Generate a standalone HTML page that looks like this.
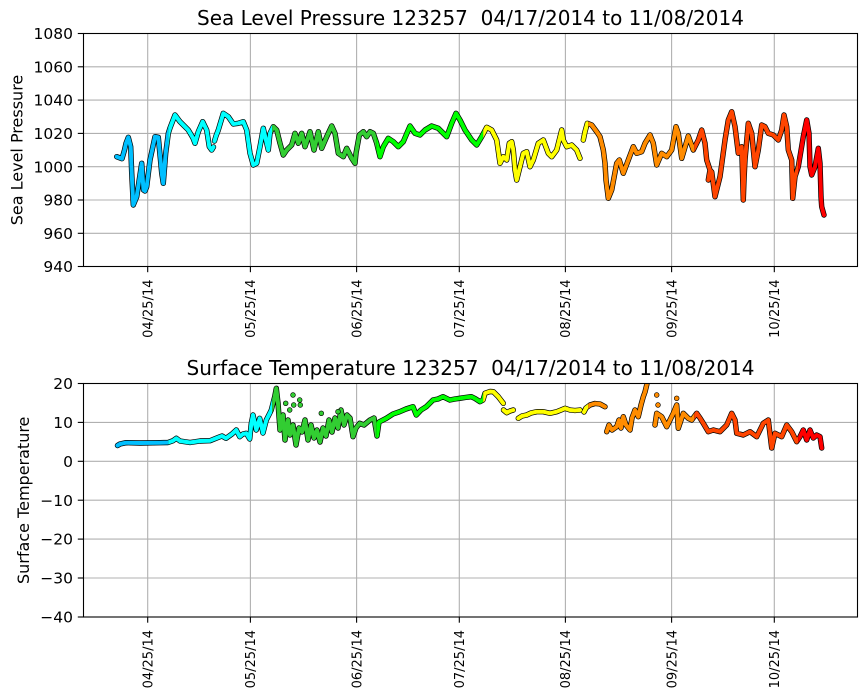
<!DOCTYPE html>
<html>
<head>
<meta charset="utf-8">
<style>
html,body{margin:0;padding:0;background:#fff;}
svg{display:block;}
text{font-family:"DejaVu Sans","Liberation Sans",sans-serif;fill:#000;}
.ttl{white-space:pre;}
</style>
</head>
<body>
<svg width="867" height="700" viewBox="0 0 867 700" xmlns="http://www.w3.org/2000/svg">
<defs>
  <clipPath id="axT"><rect x="83.5" y="33.5" width="774" height="233"/></clipPath>
  <clipPath id="axB"><rect x="83.5" y="383.5" width="774" height="233.5"/></clipPath>
  <clipPath id="cBlue"><rect x="0" y="0" width="168.2" height="700"/></clipPath>
  <clipPath id="cCyan"><rect x="168.2" y="0" width="104" height="700"/></clipPath>
  <clipPath id="cGreen"><rect x="272.2" y="0" width="104" height="700"/></clipPath>
  <clipPath id="cLime"><rect x="376.2" y="0" width="107" height="700"/></clipPath>
  <clipPath id="cYellow"><rect x="483.2" y="0" width="105" height="700"/></clipPath>
  <clipPath id="cDOrange"><rect x="588.2" y="0" width="106" height="700"/></clipPath>
  <clipPath id="cORed"><rect x="694.2" y="0" width="104" height="700"/></clipPath>
  <clipPath id="cRed"><rect x="798.2" y="0" width="100" height="700"/></clipPath>

  <path id="pT" fill="none" stroke-linejoin="round" stroke-linecap="round" d="M116.7,156.7 L122,158.7 124.5,150 126,143.3 128.3,137.3 130.7,146.7 131.7,173 133.3,205 136.7,196.7 141.7,163.3 143.5,190 145,191 146.7,186.7 150,160 155,136.7 158.3,137.3 160,155 161.7,173 163.3,183.3 165.7,153.3 168.3,133.3 170,128 175,115 180,121.7 188.3,130 193,138 195,143.3 198.3,131.7 202.7,121.7 206.7,130 209.3,146.7 211.7,150 213.5,147
  M214.5,141 L216,136 218.3,130 223.3,113.3 228.3,116.7 233.3,124 238.3,123.3 243.3,121.7 246.7,130 250,153.3 253.3,165 256.7,163.3 260,146.7 263.3,128.3 266.7,143.3 268.3,150 270,133.3 273.3,126.7 276.7,130 280,143.3 283.3,155 286.7,150 291.7,145 295,133.3 298.3,143.3 301.7,133.3 305,146.7 310,131.7 314,150 318.3,131.7 321.7,148.3 326.7,136.7 331.7,126 335,133.3 338.3,153.3 343.3,156.7 346.7,148.3 351.7,158.3 355,163.3 356,153.3 359.3,135 363.3,131.7 366.7,136.7 370,131.7 373.3,133.3 376.7,143.3 380,156.7 383.3,146.7 388.3,138.3 393.3,141.7 398.3,146.7 403.3,141.7 410,126 415,133.3 420,135 425,130 431.7,126 438.3,128.3 446.7,136.7 451.7,123.3 456,113.3 460,120 465,130 471.7,140 476.7,145 481.7,136.7 486.7,127.3 491.7,130 496.7,140 500,163.3 503.3,156.7 506.7,160 509.3,143.3 511.7,141.7 513.3,150 515,170 516.7,180 520,166.7 523.3,153.3 526.7,151.7 530,166.7 533.3,160 538.3,143.3 543.3,140 548.3,153.3 551.7,156.7 556.7,150 561.7,130 563.3,140 566.7,146.7 571.7,145 576.7,150 580,158.3
  M583.3,140 L585,131.7 587.3,123.3 591.7,125 596.7,131.7 600,136.7 603.3,150 605,163.3 606,180 608.3,198.3 611.7,190 616.7,163.3 619.3,160 623.3,173.3 628.3,160 633.3,146.7 636.7,153.3 641.7,151.7 645,143.3 650,135 653.3,143.3 656.7,165 661.7,153.3 666.7,156.7 671.7,150 676,126.7 678.3,133.3 681.7,158.3 688.3,136 693.3,150 698.3,140 701.7,130 705,143.3 706.7,160 710,170 708.3,180 711.7,171.7 715,196.7 720,176.7 725,140 728.3,120 731.7,111.7 735,126.7 738.3,153.3 741.7,146.7 743.3,200 744,180 745,160 748.3,123.3 751.7,133.3 755,166.7 758.3,150 761.7,125 765,126.7 768.3,133.3 773.3,135 778.3,140 781.7,130 784,115 786.7,126.7 788.3,150 791.7,160 792.7,198.3 795,176.7 798.3,166.7 803.3,136.7 806.7,120 809,133.3 810,166.7 811.7,175 815,166.7 818.3,148.3 820,163.3 821,196.7 821.7,206.7 824,215"/>

  <path id="pB" fill="none" stroke-linejoin="round" stroke-linecap="round" d="M117.5,445.5 L120,444 126,442.7 140,443 160,442.7 168,442.5 173,440.7 176.3,438.3 180,441 190,442.5 200,441 210,440.7 218,437.5 222,436 226,438.3 232,434 236.3,430 239.7,436.7 243,434 246.3,433.3 249.7,439 251.3,423.3 253,415 256.3,430 259.7,418.3 263,433 266.3,420 269.7,413.3 271.3,410 274.7,396.7 276.3,388.3 278,403 280,430 283,415 285,440 288,420 290,435 293,425 296,445 299,428 302,432 305,420 308,440 311,425 314,438 317,430 320,442 323,428 326,436 329,420 332,432 335,418 338,428 341,410 344,425 347,415 350,418 353,436.7 356,428 359.7,423.3 364,425 370,420 374,418 377,436 379,422 386.3,418.3 393,414 399.7,411.7 406,409 413,406.7 416.3,415 421,410 426.3,406.7 433,400 438,399 443,396.7 449.7,400 455,399 459.7,398.3 465,397.5 471.3,396.7 475,398.5 480,401.7 483,400 485,393.3 490,391.5 493.3,391.7 498.3,396.7 503.3,403.3
  M503.5,410 L506.7,412.7 510,411 513.3,410
  M518.3,418.3 L522,416 526.7,415 531,413 536.7,411.7 543.3,411.7 550,413.3 556.7,411.7 561,410 565,408.3 570,410 575,410.5 580,410
  M584,412 L586,408 590,405 595,403.5 600,404 605,406.7
  M606.7,431.7 L609,425 612,430 616.7,426.7 619,420 621,428 623.3,416.7 626,425 630,430 632,418 635,410 638.3,416.7 641,405 643.3,396.7 645,392 646.7,385 648,378
  M655,425 L656.7,413.3 661.7,416.7 666.7,426.7 670,420 673.3,413.3 676.7,405 678.3,428.3 683.3,413.3 688.3,418.3 691.7,420 696.7,413.3 700,418 703.3,423.3 708.3,431.7 713.3,430 720,431.7 726.7,425 731.7,413.3 735,420 736.7,433.3 743.3,435 750,431.7 756.7,436.7 763.3,423.3 768.3,420 771.7,448 775,433.3 781.7,436.7 786.7,425 791.7,431.7 796.7,441.7 800,436.7 803.3,430 806.7,440 810,430 813.3,438 816.7,435 820,436.7 821.7,448"/>
</defs>

<rect x="0" y="0" width="867" height="700" fill="#fff"/>

<!-- ================= TOP AXES ================= -->
<g stroke="#b0b0b0" stroke-width="1.1" fill="none">
  <line x1="147.7" y1="33.5" x2="147.7" y2="266.5"/>
  <line x1="250.4" y1="33.5" x2="250.4" y2="266.5"/>
  <line x1="356.6" y1="33.5" x2="356.6" y2="266.5"/>
  <line x1="459.3" y1="33.5" x2="459.3" y2="266.5"/>
  <line x1="565.4" y1="33.5" x2="565.4" y2="266.5"/>
  <line x1="671.6" y1="33.5" x2="671.6" y2="266.5"/>
  <line x1="774.3" y1="33.5" x2="774.3" y2="266.5"/>
  <line x1="83.5" y1="66.8" x2="857.5" y2="66.8"/>
  <line x1="83.5" y1="100.1" x2="857.5" y2="100.1"/>
  <line x1="83.5" y1="133.4" x2="857.5" y2="133.4"/>
  <line x1="83.5" y1="166.7" x2="857.5" y2="166.7"/>
  <line x1="83.5" y1="200" x2="857.5" y2="200"/>
  <line x1="83.5" y1="233.3" x2="857.5" y2="233.3"/>
</g>

<g clip-path="url(#axT)">
  <use href="#pT" stroke="#000" stroke-width="5.4"/>
  <g stroke-width="4.0">
    <use href="#pT" stroke="#00bfff" clip-path="url(#cBlue)"/>
    <use href="#pT" stroke="#00ffff" clip-path="url(#cCyan)"/>
    <use href="#pT" stroke="#32cd32" clip-path="url(#cGreen)"/>
    <use href="#pT" stroke="#00ff00" clip-path="url(#cLime)"/>
    <use href="#pT" stroke="#ffff00" clip-path="url(#cYellow)"/>
    <use href="#pT" stroke="#ff8c00" clip-path="url(#cDOrange)"/>
    <use href="#pT" stroke="#ff4500" clip-path="url(#cORed)"/>
    <use href="#pT" stroke="#ff0000" clip-path="url(#cRed)"/>
  </g>
</g>

<rect x="83.5" y="33.5" width="774" height="233" fill="none" stroke="#000" stroke-width="1.1"/>

<g stroke="#000" stroke-width="1.1">
  <line x1="77.8" y1="33.5" x2="83.5" y2="33.5"/>
  <line x1="77.8" y1="66.8" x2="83.5" y2="66.8"/>
  <line x1="77.8" y1="100.1" x2="83.5" y2="100.1"/>
  <line x1="77.8" y1="133.4" x2="83.5" y2="133.4"/>
  <line x1="77.8" y1="166.7" x2="83.5" y2="166.7"/>
  <line x1="77.8" y1="200" x2="83.5" y2="200"/>
  <line x1="77.8" y1="233.3" x2="83.5" y2="233.3"/>
  <line x1="77.8" y1="266.5" x2="83.5" y2="266.5"/>
  <line x1="147.7" y1="266.5" x2="147.7" y2="272.2"/>
  <line x1="250.4" y1="266.5" x2="250.4" y2="272.2"/>
  <line x1="356.6" y1="266.5" x2="356.6" y2="272.2"/>
  <line x1="459.3" y1="266.5" x2="459.3" y2="272.2"/>
  <line x1="565.4" y1="266.5" x2="565.4" y2="272.2"/>
  <line x1="671.6" y1="266.5" x2="671.6" y2="272.2"/>
  <line x1="774.3" y1="266.5" x2="774.3" y2="272.2"/>
</g>

<g font-size="15.5" text-anchor="end">
  <text x="73" y="39.1">1080</text>
  <text x="73" y="72.4">1060</text>
  <text x="73" y="105.7">1040</text>
  <text x="73" y="139">1020</text>
  <text x="73" y="172.3">1000</text>
  <text x="73" y="205.6">980</text>
  <text x="73" y="238.9">960</text>
  <text x="73" y="272.1">940</text>
</g>

<g font-size="13" text-anchor="end">
  <text transform="translate(152.4,279.5) rotate(-90)">04/25/14</text>
  <text transform="translate(255.1,279.5) rotate(-90)">05/25/14</text>
  <text transform="translate(361.3,279.5) rotate(-90)">06/25/14</text>
  <text transform="translate(464,279.5) rotate(-90)">07/25/14</text>
  <text transform="translate(570.1,279.5) rotate(-90)">08/25/14</text>
  <text transform="translate(676.3,279.5) rotate(-90)">09/25/14</text>
  <text transform="translate(779,279.5) rotate(-90)">10/25/14</text>
</g>

<text class="ttl" x="470.5" y="25" font-size="20" text-anchor="middle" xml:space="preserve">Sea Level Pressure 123257  04/17/2014 to 11/08/2014</text>
<text transform="translate(22.5,150) rotate(-90)" font-size="16" text-anchor="middle">Sea Level Pressure</text>

<!-- ================= BOTTOM AXES ================= -->
<g stroke="#b0b0b0" stroke-width="1.1" fill="none">
  <line x1="147.7" y1="383.5" x2="147.7" y2="617"/>
  <line x1="250.4" y1="383.5" x2="250.4" y2="617"/>
  <line x1="356.6" y1="383.5" x2="356.6" y2="617"/>
  <line x1="459.3" y1="383.5" x2="459.3" y2="617"/>
  <line x1="565.4" y1="383.5" x2="565.4" y2="617"/>
  <line x1="671.6" y1="383.5" x2="671.6" y2="617"/>
  <line x1="774.3" y1="383.5" x2="774.3" y2="617"/>
  <line x1="83.5" y1="422.4" x2="857.5" y2="422.4"/>
  <line x1="83.5" y1="461.3" x2="857.5" y2="461.3"/>
  <line x1="83.5" y1="500.2" x2="857.5" y2="500.2"/>
  <line x1="83.5" y1="539.1" x2="857.5" y2="539.1"/>
  <line x1="83.5" y1="578" x2="857.5" y2="578"/>
</g>

<g clip-path="url(#axB)">
  <use href="#pB" stroke="#000" stroke-width="5.4"/>
  <g stroke-width="4.0">
    <use href="#pB" stroke="#00bfff" clip-path="url(#cBlue)"/>
    <use href="#pB" stroke="#00ffff" clip-path="url(#cCyan)"/>
    <use href="#pB" stroke="#32cd32" clip-path="url(#cGreen)"/>
    <use href="#pB" stroke="#00ff00" clip-path="url(#cLime)"/>
    <use href="#pB" stroke="#ffff00" clip-path="url(#cYellow)"/>
    <use href="#pB" stroke="#ff8c00" clip-path="url(#cDOrange)"/>
    <use href="#pB" stroke="#ff4500" clip-path="url(#cORed)"/>
    <use href="#pB" stroke="#ff0000" clip-path="url(#cRed)"/>
  </g>
  <g stroke="#000" stroke-width="0.6" fill="#32cd32">
    <circle cx="285.7" cy="403.3" r="2.4"/>
    <circle cx="293" cy="395" r="2.4"/>
    <circle cx="299.7" cy="400" r="2.4"/>
    <circle cx="300.3" cy="405" r="2.4"/>
    <circle cx="293.7" cy="405" r="2.4"/>
    <circle cx="289.7" cy="410" r="2.4"/>
    <circle cx="338" cy="411.7" r="2.4"/>
    <circle cx="321.3" cy="413.3" r="2.4"/>
  </g>
  <g stroke="#000" stroke-width="0.6" fill="#ff8c00">
    <circle cx="656.7" cy="395" r="2.4"/>
    <circle cx="676.7" cy="398.3" r="2.4"/>
    <circle cx="658" cy="405" r="2.4"/>
  </g>
</g>

<rect x="83.5" y="383.5" width="774" height="233.5" fill="none" stroke="#000" stroke-width="1.1"/>

<g stroke="#000" stroke-width="1.1">
  <line x1="77.8" y1="383.5" x2="83.5" y2="383.5"/>
  <line x1="77.8" y1="422.4" x2="83.5" y2="422.4"/>
  <line x1="77.8" y1="461.3" x2="83.5" y2="461.3"/>
  <line x1="77.8" y1="500.2" x2="83.5" y2="500.2"/>
  <line x1="77.8" y1="539.1" x2="83.5" y2="539.1"/>
  <line x1="77.8" y1="578" x2="83.5" y2="578"/>
  <line x1="77.8" y1="617" x2="83.5" y2="617"/>
  <line x1="147.7" y1="617" x2="147.7" y2="622.7"/>
  <line x1="250.4" y1="617" x2="250.4" y2="622.7"/>
  <line x1="356.6" y1="617" x2="356.6" y2="622.7"/>
  <line x1="459.3" y1="617" x2="459.3" y2="622.7"/>
  <line x1="565.4" y1="617" x2="565.4" y2="622.7"/>
  <line x1="671.6" y1="617" x2="671.6" y2="622.7"/>
  <line x1="774.3" y1="617" x2="774.3" y2="622.7"/>
</g>

<g font-size="15.5" text-anchor="end">
  <text x="73" y="389.1">20</text>
  <text x="73" y="428">10</text>
  <text x="73" y="466.9">0</text>
  <text x="73" y="505.8">−10</text>
  <text x="73" y="544.7">−20</text>
  <text x="73" y="583.6">−30</text>
  <text x="73" y="622.6">−40</text>
</g>

<g font-size="13" text-anchor="end">
  <text transform="translate(152.4,630) rotate(-90)">04/25/14</text>
  <text transform="translate(255.1,630) rotate(-90)">05/25/14</text>
  <text transform="translate(361.3,630) rotate(-90)">06/25/14</text>
  <text transform="translate(464,630) rotate(-90)">07/25/14</text>
  <text transform="translate(570.1,630) rotate(-90)">08/25/14</text>
  <text transform="translate(676.3,630) rotate(-90)">09/25/14</text>
  <text transform="translate(779,630) rotate(-90)">10/25/14</text>
</g>

<text class="ttl" x="470.5" y="375" font-size="20" text-anchor="middle" xml:space="preserve">Surface Temperature 123257  04/17/2014 to 11/08/2014</text>
<text transform="translate(29,500.3) rotate(-90)" font-size="16" text-anchor="middle">Surface Temperature</text>
</svg>
</body>
</html>
